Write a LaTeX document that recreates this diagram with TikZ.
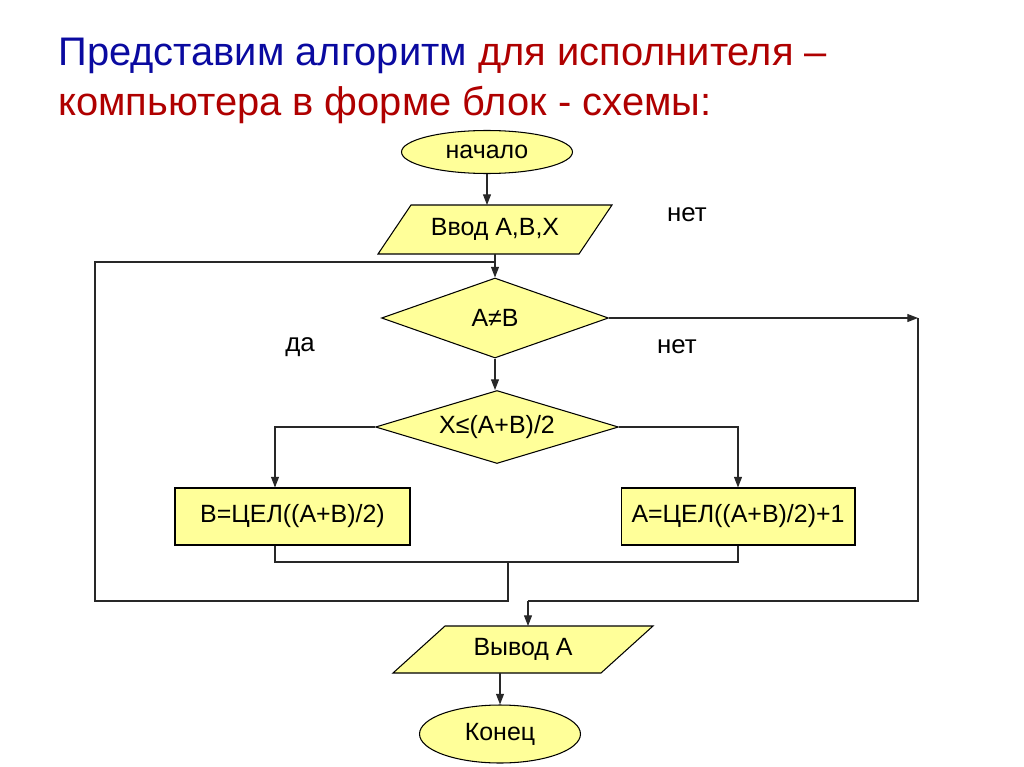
\documentclass[tikz,border=0pt]{standalone}
\usepackage{fontspec}
\setmainfont{Liberation Sans}
\usetikzlibrary{shapes.geometric,arrows.meta,backgrounds}
\definecolor{tblue}{RGB}{10,10,160}
\definecolor{tred}{RGB}{175,0,0}
\definecolor{fillY}{RGB}{255,255,153}
\definecolor{lineC}{RGB}{40,40,40}
\tikzset{
  blk/.style={draw=black, line width=0.6pt, fill=fillY, inner sep=0pt, font=\fontsize{14.2}{16}\selectfont},
  oval/.style={blk, ellipse},
  iobody/.style={rectangle, inner sep=0pt, outer sep=0pt, font=\fontsize{14.2}{16}\selectfont},
  ioshape/.style={draw=black, line width=0.6pt, fill=fillY},
  cond/.style={blk, diamond},
  proc/.style={blk, rectangle},
  conn/.style={draw=lineC, line width=0.6pt},
  arr/.style={conn, -{Triangle[length=6pt,width=4.5pt]}},
  lbl/.style={font=\fontsize{14.7}{17}\selectfont, inner sep=0pt},
  ttl/.style={font=\fontsize{22.7}{26}\selectfont, inner sep=0pt, anchor=base west}
}
\begin{document}
\begin{tikzpicture}[x=0.02cm,y=-0.02cm]
\useasboundingbox (0,0) rectangle (1024,767);
% title
\node[ttl] (t1) at (58,66) {\textcolor{tblue}{Представим алгоритм} \textcolor{tred}{для исполнителя –}};
\node[ttl, text=tred] (t2) at (58,115) {компьютера в форме блок - схемы:};
% blocks
\node[oval, minimum width=3.42cm, minimum height=0.86cm] (start) at (487,152) {начало};
\node[iobody, minimum width=4.02cm, minimum height=0.98cm] (input) at (495,229.5) {Ввод А,В,Х};
\node[cond, aspect=2.84, minimum width=4.54cm, minimum height=1.6cm] (d1) at (495,318) {А≠В};
\node[cond, aspect=3.33, minimum width=4.86cm, minimum height=1.46cm] (d2) at (497,427) {Х≤(А+В)/2};
\node[proc, minimum width=4.70cm, minimum height=1.14cm] (boxB) at (292.5,516.5) {В=ЦЕЛ((А+В)/2)};
\node[proc, minimum width=4.68cm, minimum height=1.14cm] (boxA) at (738,516.5) {А=ЦЕЛ((А+В)/2)+1};
\node[iobody, minimum width=4.16cm, minimum height=0.94cm] (output) at (523,649.5) {Вывод А};
\node[oval, minimum width=3.22cm, minimum height=1.16cm] (end) at (500,734) {Конец};
% parallelogram outlines behind the I/O nodes
\begin{scope}[on background layer]
\draw[ioshape] ([xshift=0.33cm]input.north west) -- ([xshift=0.33cm]input.north east)
  -- ([xshift=-0.33cm]input.south east) -- ([xshift=-0.33cm]input.south west) -- cycle;
\draw[ioshape] ([xshift=0.52cm]output.north west) -- ([xshift=0.52cm]output.north east)
  -- ([xshift=-0.52cm]output.south east) -- ([xshift=-0.52cm]output.south west) -- cycle;
\end{scope}
% labels
\node[lbl] (l1) at (687,215) {нет};
\node[lbl] (l2) at (300,347) {да};
\node[lbl] (l3) at (677,347) {нет};
% helper coordinates
\coordinate (xl) at (275,562);
\coordinate (xr) at (738,562);
\coordinate (xm) at (508,601);
\coordinate (lc1) at (95,601);
\coordinate (lc2) at (95,262);
\coordinate (rc1) at (918,318);
\coordinate (rc2) at (918,601);
\coordinate (rc3) at (528,601);
% connectors
\draw[arr] (start.south) -- (start.south |- input.north);
\draw[arr] (input.south -| d1.north) -- (d1.north);
\draw[arr] (d1.south) -- (d1.south |- d2.north);
\draw[arr] (d2.west) -| (xl |- boxB.north);
\draw[arr] (d2.east) -| (boxA.north);
\draw[conn] (xl |- boxB.south) -- (xl) -- (xr) -- (boxA.south);
\draw[conn] (xm |- xl) -- (xm) -- (lc1) -- (lc2) -- (lc2 -| d1.north);
\draw[arr] (d1.east) -- (rc1);
\draw[conn] (rc1) -- (rc2) -- (rc3);
\draw[arr] (rc3) -- (rc3 |- output.north);
\draw[arr] (output.south -| end.north) -- (end.north);
\end{tikzpicture}
\end{document}
